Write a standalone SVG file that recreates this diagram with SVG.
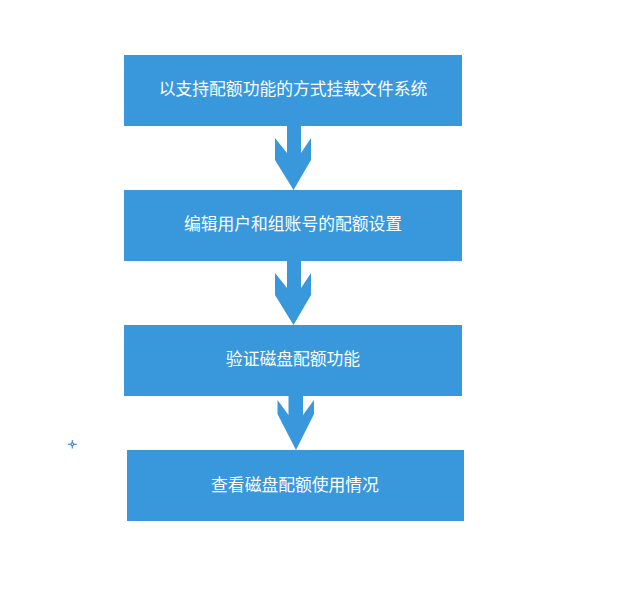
<svg xmlns="http://www.w3.org/2000/svg" width="634" height="597" viewBox="0 0 634 597">
<style>
.box{fill:#3898db}
.arr{fill:#3898db}
.lbl{fill:#ffffff;font-family:"Liberation Sans","Noto Sans CJK SC",sans-serif;font-size:16.8px;text-anchor:middle;dominant-baseline:central}
</style>
<rect width="634" height="597" fill="#ffffff"/>
<g id="connectors">
<polygon class="arr" points="287,126 301,126 301,153 311,138 311,160 293.5,190 275,160 275,138 287,153"/>
<polygon class="arr" points="287,261 301,261 301,288 311,273 311,295 293.5,325 275,295 275,273 287,288"/>
<polygon class="arr" points="288.5,396 303,396 303,415 314,400 314,414 296,450 277.5,414 277.5,400 288.5,415"/>
</g>
<g id="node1"><rect class="box" x="124" y="55" width="338" height="71"/><text class="lbl" x="293" y="89.5">以支持配额功能的方式挂载文件系统</text></g>
<g id="node2"><rect class="box" x="124" y="190" width="338" height="71"/><text class="lbl" x="293" y="224.5">编辑用户和组账号的配额设置</text></g>
<g id="node3"><rect class="box" x="124" y="325" width="338" height="71"/><text class="lbl" x="293" y="359.5">验证磁盘配额功能</text></g>
<g id="node4"><rect class="box" x="127" y="450" width="337" height="71"/><text class="lbl" x="295" y="485">查看磁盘配额使用情况</text></g>
<g id="mark" stroke="#4a86e8" stroke-width="1.2" fill="none">
<line x1="68" y1="444.3" x2="76.6" y2="444.3"/>
<line x1="72.3" y1="440" x2="72.3" y2="448.6"/>
<circle cx="72.3" cy="444.3" r="1.4" fill="#ffffff"/>
</g>
</svg>
